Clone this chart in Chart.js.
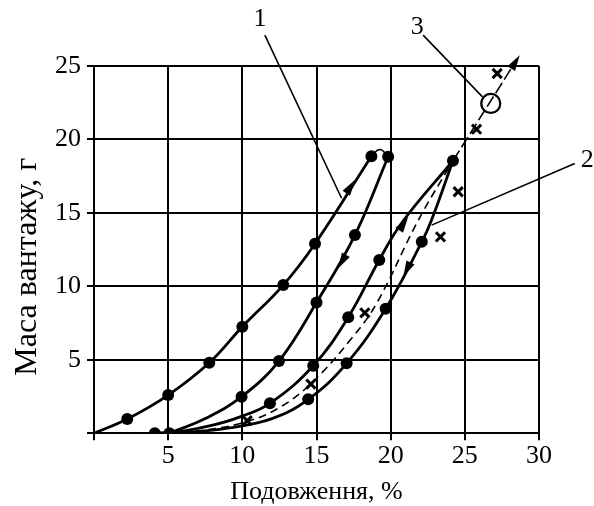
<!DOCTYPE html>
<html><head><meta charset="utf-8">
<script src="https://cdn.jsdelivr.net/npm/chart.js@4/dist/chart.umd.min.js"></script>
<style>html,body{margin:0;padding:0;background:#fff}</style>
</head><body>
<canvas id="c" width="594" height="506"></canvas>
<script>
// ---- data ----
const xTicks = [0, 5, 10, 15, 20, 25, 30];
const yTicks = [0, 5, 10, 15, 20, 25];
const xTitle = 'Подовження, %';
const yTitle = 'Маса вантажу, г';

// loop 1 (curve nodes)
const loop1Up   = [[0,0],[2.24,0.97],[5,2.6],[7.77,4.8],[10,7.25],[12.76,10.09],[14.9,12.9],[18.7,18.86]];
const loop1Top  = [[18.7,18.86],[19.27,19.32],[19.83,18.82]];
const loop1Down = [[19.83,18.82],[17.59,13.49],[15,8.9],[12.47,4.92],[9.95,2.49],[7.5,1.0],[5.08,0]];
// loop 2
const loop2Up   = [[4.1,0],[6,0.15],[8,0.55],[9.8,1.1],[11.86,2.04],[14.78,4.6],[17.14,7.9],[19.23,11.8],[20.8,14.4],[24.2,18.55]];
const loop2Down = [[24.2,18.55],[22.75,14.5],[22.1,13.03],[19.66,8.48],[17.03,4.76],[14.44,2.31],[12,1.0],[9,0.35],[6.5,0.08],[5.08,0]];
// curve 3 (dashed) and its extension
const curve3     = [[5.08,0],[7.5,0.22],[10.3,0.8],[12.5,1.75],[14.7,3.45],[17.36,6.46],[19.05,8.84],[21.86,14.5],[24.2,18.55]];
const curve3Ext  = [[24.2,18.55],[28.45,25.35]];
// measured markers
const dotPoints = [[2.24,0.97],[5,2.6],[7.77,4.8],[10,7.25],[12.76,10.09],[14.9,12.9],[18.7,18.86],
  [19.83,18.82],[17.59,13.49],[15,8.9],[12.47,4.92],[9.95,2.49],[5.08,0],
  [4.1,0],[11.86,2.04],[14.78,4.6],[17.14,7.9],[19.23,11.8],[24.2,18.55],
  [22.1,13.03],[19.66,8.48],[17.03,4.76],[14.44,2.31]];
const crossPoints = [[10.33,0.86],[14.62,3.35],[18.26,8.2],[23.36,13.37],[24.55,16.44],[25.79,20.7],[27.18,24.49]];
const ringPoints = [[26.75,22.45]];
// direction arrows: [fromX, fromY, tipX, tipY]
const arrows = [[17.05,16.4,17.6,17.25],[16.95,12.1,16.45,11.21],[20.73,14.05,21.18,14.73],[21.3,11.55,20.85,10.65],[27.9,24.45,28.7,25.74]];
// callout leaders: [fromX, fromY, toX, toY] and labels
const leaders = [[11.52,27.1,16.69,16.0],[32.41,18.37,22.76,14.17],[22.19,27.1,26.19,22.9]];
const calloutLabels = [['1',11.19,28.16],['2',33.25,18.59],['3',21.79,27.66]];

// ---- chart ----
const FONT = 'Liberation Serif';
const xy = a => a.map(p => ({x:p[0], y:p[1]}));
const curve = (arr, extra) => Object.assign({data: xy(arr), showLine:true, tension:0.4, borderColor:'#000', borderWidth:2.8, pointRadius:0, fill:false}, extra||{});

const decor = {
  id:'decor',
  afterDatasetsDraw(chart){
    const ctx = chart.ctx, xs = chart.scales.x, ys = chart.scales.y;
    ctx.save();
    ctx.fillStyle = '#000'; ctx.strokeStyle = '#000';
    arrows.forEach(a => {
      const x1 = xs.getPixelForValue(a[0]), y1 = ys.getPixelForValue(a[1]);
      const x2 = xs.getPixelForValue(a[2]), y2 = ys.getPixelForValue(a[3]);
      const ang = Math.atan2(y2-y1, x2-x1), L = 16, W = 4.5;
      ctx.beginPath();
      ctx.moveTo(x2, y2);
      ctx.lineTo(x2 - L*Math.cos(ang) - W*Math.sin(ang), y2 - L*Math.sin(ang) + W*Math.cos(ang));
      ctx.lineTo(x2 - L*Math.cos(ang) + W*Math.sin(ang), y2 - L*Math.sin(ang) - W*Math.cos(ang));
      ctx.closePath(); ctx.fill();
    });
    ctx.lineWidth = 1.6;
    leaders.forEach(l => {
      ctx.beginPath();
      ctx.moveTo(xs.getPixelForValue(l[0]), ys.getPixelForValue(l[1]));
      ctx.lineTo(xs.getPixelForValue(l[2]), ys.getPixelForValue(l[3]));
      ctx.stroke();
    });
    ctx.font = '26px "' + FONT + '"';
    ctx.textAlign = 'center'; ctx.textBaseline = 'middle';
    calloutLabels.forEach(t => ctx.fillText(t[0], xs.getPixelForValue(t[1]), ys.getPixelForValue(t[2])));
    // y-axis title, placed a little below the axis centre as in the source figure
    ctx.save();
    ctx.translate(28, (ys.top + ys.bottom) / 2 + 17);
    ctx.rotate(-Math.PI / 2);
    ctx.font = '32px "' + FONT + '"';
    ctx.fillText(yTitle, 0, 0);
    ctx.restore();
    ctx.restore();
  }
};

new Chart(document.getElementById('c'), {
  type:'scatter',
  data:{datasets:[
    curve(loop1Up),
    curve(loop1Top, {borderWidth:1.6, tension:0.5}),
    curve(loop1Down),
    curve(loop2Up),
    curve(loop2Down),
    curve(curve3, {borderWidth:1.6, borderDash:[8,5]}),
    curve(curve3Ext, {borderWidth:1.6, borderDash:[12,4], tension:0, clip:false}),
    {data: xy(dotPoints), showLine:false, pointRadius:6, pointBackgroundColor:'#000', pointBorderColor:'#000', pointBorderWidth:0},
    {data: xy(crossPoints), showLine:false, pointStyle:'crossRot', pointRadius:6.5, pointBorderColor:'#000', pointBorderWidth:3, clip:false},
    {data: xy(ringPoints), showLine:false, pointStyle:'circle', pointRadius:9.5, pointBackgroundColor:'rgba(0,0,0,0)', pointBorderColor:'#000', pointBorderWidth:2.2}
  ]},
  options:{
    responsive:false, animation:false,
    layout:{padding:{left:0, top:66, right:55, bottom:0}},
    plugins:{legend:{display:false}, tooltip:{enabled:false}},
    scales:{
      x:{type:'linear', min:0, max:30,
        afterBuildTicks: s => { s.ticks = xTicks.map(v => ({value:v})); },
        afterFit: s => { s.height = 506 - 433.3; },
        grid:{color:'#000', lineWidth:2, tickLength:7, drawTicks:true},
        border:{color:'#000', width:2},
        ticks:{color:'#000', padding:0, font:{family:FONT, size:26}, callback: v => v === 0 ? '' : String(v)},
        title:{display:true, text:xTitle, color:'#000', font:{family:FONT, size:26, lineHeight:1}, padding:{top:0, bottom:1}}
      },
      y:{type:'linear', min:0, max:25,
        afterBuildTicks: s => { s.ticks = yTicks.map(v => ({value:v})); },
        afterFit: s => { s.width = 94; },
        grid:{color:'#000', lineWidth:2, tickLength:7, drawTicks:true},
        border:{color:'#000', width:2},
        ticks:{color:'#000', padding:6, font:{family:FONT, size:26}, callback: v => v === 0 ? '' : String(v)},
        title:{display:false, text:yTitle}
      }
    }
  },
  plugins:[decor]
});
</script>
</body></html>
